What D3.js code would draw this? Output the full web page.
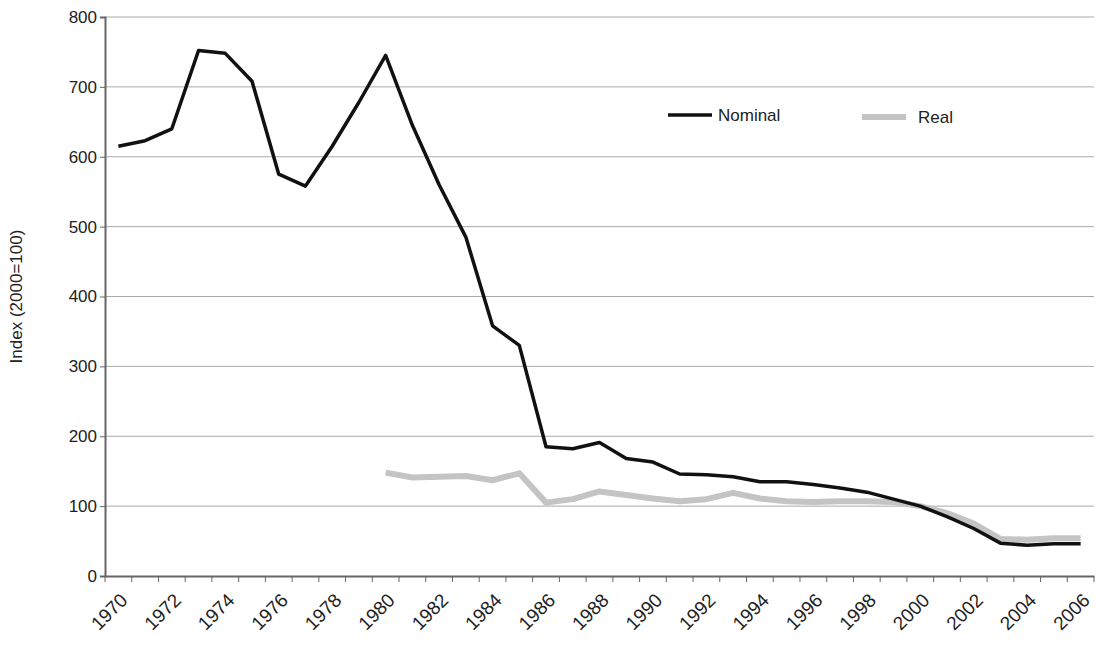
<!DOCTYPE html>
<html><head><meta charset="utf-8">
<script src="https://cdn.jsdelivr.net/npm/d3@7"></script>
<style>body{margin:0;background:#fff}text{font-family:"Liberation Sans",Arial,sans-serif;fill:#222}</style>
</head><body>
<svg id="chart" width="1096" height="647"></svg>
<script>
// data
var years = d3.range(1970, 2007);
var nominal = [615,623,640,752,748,708,575,558,615,678,745,645,560,485,358,330,185,182,191,168,163,146,145,142,135,135,131,126,120,110,100,85,68,47,44,46,46];
var realYears = d3.range(1980, 2007);
var real = [148,141,142,143,137,147,105,110,121,116,111,107,110,119,111,107,106,107,107,106,100,90,75,53,52,54,54];
var yTicks = [0,100,200,300,400,500,600,700,800];

var svg = d3.select('#chart');
var mLeft = 105, mRight = 1094, mTop = 17, mBottom = 576;

var x = d3.scaleBand().domain(years).range([mLeft, mRight]);
var y = d3.scaleLinear().domain([0, 800]).range([mBottom, mTop]);
var cx = function(d){ return x(d) + x.bandwidth()/2; };

// gridlines
svg.append('g').selectAll('line').data(yTicks.slice(1)).join('line')
    .attr('x1', mLeft).attr('x2', mRight)
    .attr('y1', d => y(d)).attr('y2', d => y(d))
    .attr('stroke', '#aaa').attr('stroke-width', 1);

// y axis
var ya = svg.append('g').attr('transform', 'translate(' + mLeft + ',0)')
    .call(d3.axisLeft(y).tickValues(yTicks).tickSize(5).tickPadding(3));
ya.select('.domain').attr('stroke', '#666').attr('stroke-width', 2);
ya.selectAll('.tick line').attr('stroke', '#666');
ya.selectAll('text').style('font-size', '17px').style('font-family', '"Liberation Sans",Arial,sans-serif').attr('fill', '#222');

// x axis
var xa = svg.append('g').attr('transform', 'translate(0,' + mBottom + ')')
    .call(d3.axisBottom(x).tickSize(0).tickFormat(''));
xa.select('.domain').attr('stroke', '#666').attr('stroke-width', 2);
svg.append('g').selectAll('line').data(d3.range(years.length + 1)).join('line')
    .attr('x1', d => mLeft + d * x.step()).attr('x2', d => mLeft + d * x.step())
    .attr('y1', mBottom).attr('y2', mBottom + 6)
    .attr('stroke', '#666');
svg.append('g').selectAll('text').data(years.filter(d => d % 2 == 0)).join('text')
    .attr('transform', d => 'translate(' + (cx(d) + 1) + ',' + (mBottom + 16) + ') rotate(-45)')
    .attr('text-anchor', 'end').attr('dy', '0.7em')
    .style('font-size', '19px').text(d => d);

svg.append('text')
    .attr('transform', 'translate(22,' + ((mTop + mBottom) / 2) + ') rotate(-90)')
    .attr('text-anchor', 'middle').style('font-size', '17px')
    .text('Index (2000=100)');

var line = d3.line().x(d => cx(d[0])).y(d => y(d[1]));

svg.append('path').datum(d3.zip(realYears, real))
    .attr('d', line).attr('fill', 'none')
    .attr('stroke', '#c4c4c4').attr('stroke-width', 6).attr('stroke-linejoin', 'round');
svg.append('path').datum(d3.zip(years, nominal))
    .attr('d', line).attr('fill', 'none')
    .attr('stroke', '#111').attr('stroke-width', 3.5).attr('stroke-linejoin', 'round');

// legend
var legend = [
    {key: 'Nominal', color: '#111', w: 3.5, x: 668, y: 115},
    {key: 'Real', color: '#c4c4c4', w: 6, x: 862, y: 117}
];
var lg = svg.append('g').selectAll('g').data(legend).join('g')
    .attr('transform', d => 'translate(' + d.x + ',' + d.y + ')');
lg.append('line').attr('x1', 0).attr('x2', 44)
    .attr('stroke', d => d.color).attr('stroke-width', d => d.w);
lg.append('text').attr('x', d => d.key == 'Real' ? 56 : 50).attr('dy', '0.35em')
    .style('font-size', '17px').text(d => d.key);
</script>
</body></html>
